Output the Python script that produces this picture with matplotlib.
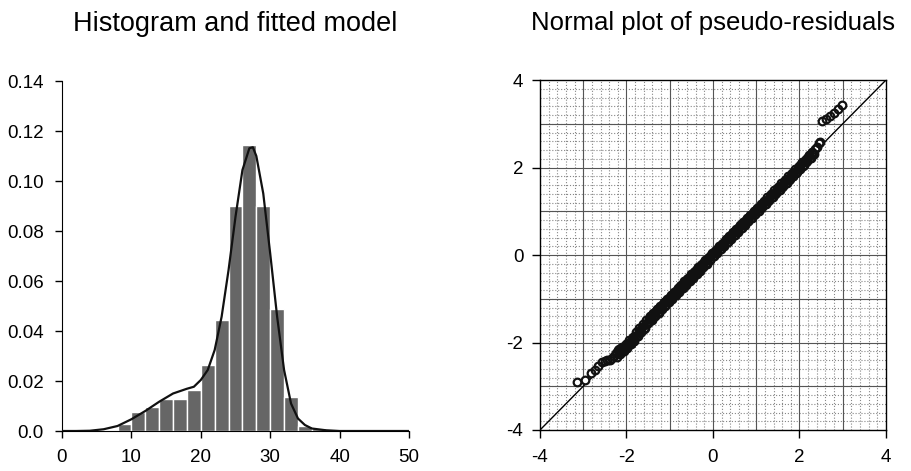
import numpy as np
import matplotlib
matplotlib.use("Agg")
import matplotlib.pyplot as plt

plt.rcParams['font.family'] = ['Liberation Sans', 'DejaVu Sans']
plt.rcParams['axes.unicode_minus'] = False

# histogram bins (left edges) and heights
bin_left = [8, 10, 12, 14, 16, 18, 20, 22, 24, 26, 28, 30, 32, 34, 36]
bin_height = [0.003, 0.0077, 0.0097, 0.0127, 0.0127, 0.0164, 0.0264, 0.0444,
              0.0901, 0.1144, 0.0901, 0.049, 0.0137, 0.002, 0.0013]

# fitted model density
curve_x = [0, 2, 4, 6, 8, 10, 12, 14, 16, 18, 19, 20, 21, 22, 23, 24, 25, 26,
           27, 27.5, 28, 29, 30, 31, 32, 33, 34, 35, 36, 38, 40, 45, 50]
curve_y = [0.0, 0.0, 0.0001, 0.0007, 0.002, 0.0047, 0.008, 0.0117, 0.015,
           0.0169, 0.0177, 0.0204, 0.0244, 0.0324, 0.0457, 0.0644, 0.0857,
           0.1044, 0.1131, 0.1135, 0.110, 0.095, 0.071, 0.0457, 0.0244, 0.011,
           0.005, 0.0024, 0.001, 0.0003, 0.0, 0.0, 0.0]

# normal plot: theoretical quantile vs pseudo-residual
qq_x = [-3.15, -2.96, -2.82, -2.72, -2.65, -2.57, -2.50, -2.44, -2.38, -2.33, -2.28,
        -2.24, -2.20, -2.16, -2.12, -2.08, -2.04, -2.00, -1.96, -1.92, -1.88,
        -1.84, -1.80, -1.76, -1.72, -1.68, -1.64, -1.60, -1.56, -1.52, -1.48,
        -1.44, -1.40, -1.36, -1.32, -1.28, -1.24, -1.20, -1.16, -1.12, -1.08,
        -1.04, -1.00, -0.96, -0.92, -0.88, -0.84, -0.80, -0.76, -0.72, -0.68,
        -0.64, -0.60, -0.56, -0.52, -0.48, -0.44, -0.40, -0.36, -0.32, -0.28,
        -0.24, -0.20, -0.16, -0.12, -0.08, -0.04, 0.00, 0.04, 0.08, 0.12,
        0.16, 0.20, 0.24, 0.28, 0.32, 0.36, 0.40, 0.44, 0.48, 0.52,
        0.56, 0.60, 0.64, 0.68, 0.72, 0.76, 0.80, 0.84, 0.88, 0.92,
        0.96, 1.00, 1.04, 1.08, 1.12, 1.16, 1.20, 1.24, 1.28, 1.32,
        1.36, 1.40, 1.44, 1.48, 1.52, 1.56, 1.60, 1.64, 1.68, 1.72,
        1.76, 1.80, 1.84, 1.88, 1.92, 1.96, 2.00, 2.04, 2.08, 2.12,
        2.16, 2.20, 2.24, 2.28, 2.32, 2.36, 2.40, 2.44, 2.47,
        2.53, 2.61, 2.70, 2.79, 2.88, 2.99]
qq_y = [-2.91, -2.86, -2.70, -2.62, -2.53, -2.44, -2.42, -2.41, -2.40, -2.36, -2.31,
        -2.25, -2.18, -2.22, -2.14, -2.18, -2.08, -2.10, -2.00, -2.02, -1.93,
        -1.97, -1.85, -1.84, -1.74, -1.76, -1.65, -1.68, -1.57, -1.55, -1.46,
        -1.47, -1.36, -1.39, -1.29, -1.30, -1.20, -1.22, -1.12, -1.14, -1.04,
        -1.06, -0.96, -0.98, -0.88, -0.90, -0.79, -0.82, -0.71, -0.74, -0.63,
        -0.66, -0.55, -0.58, -0.47, -0.50, -0.39, -0.42, -0.31, -0.34, -0.23,
        -0.26, -0.15, -0.18, -0.07, -0.10, 0.01, -0.02, 0.09, 0.06, 0.17,
        0.14, 0.25, 0.22, 0.33, 0.30, 0.41, 0.38, 0.48, 0.46, 0.56,
        0.54, 0.64, 0.62, 0.72, 0.70, 0.80, 0.78, 0.87, 0.85, 0.95,
        0.93, 1.03, 1.01, 1.10, 1.08, 1.18, 1.16, 1.26, 1.24, 1.34,
        1.32, 1.42, 1.40, 1.50, 1.48, 1.58, 1.56, 1.66, 1.64, 1.74,
        1.72, 1.82, 1.80, 1.90, 1.88, 1.99, 1.96, 2.07, 2.04, 2.15,
        2.13, 2.24, 2.22, 2.33, 2.32, 2.42, 2.47, 2.55, 2.59,
        3.07, 3.10, 3.18, 3.25, 3.33, 3.43]

# the dense middle part has many more points, overlapping into a solid band
qq_x_mid = [-2.22, -2.18, -2.14, -2.10, -2.06, -2.02, -1.98, -1.94, -1.90, -1.86,
            -1.82, -1.78, -1.74, -1.70, -1.66, -1.62, -1.58, -1.54, -1.50, -1.46,
            -1.42, -1.38, -1.34, -1.30, -1.26, -1.22, -1.18, -1.14, -1.10, -1.06,
            -1.02, -0.98, -0.94, -0.90, -0.86, -0.82, -0.78, -0.74, -0.70, -0.66,
            -0.62, -0.58, -0.54, -0.50, -0.46, -0.42, -0.38, -0.34, -0.30, -0.26,
            -0.22, -0.18, -0.14, -0.10, -0.06, -0.02, 0.02, 0.06, 0.10, 0.14,
            0.18, 0.22, 0.26, 0.30, 0.34, 0.38, 0.42, 0.46, 0.50, 0.54,
            0.58, 0.62, 0.66, 0.70, 0.74, 0.78, 0.82, 0.86, 0.90, 0.94,
            0.98, 1.02, 1.06, 1.10, 1.14, 1.18, 1.22, 1.26, 1.30, 1.34,
            1.38, 1.42, 1.46, 1.50, 1.54, 1.58, 1.62, 1.66, 1.70, 1.74,
            1.78, 1.82, 1.86, 1.90, 1.94, 1.98, 2.02, 2.06, 2.10, 2.14,
            2.18, 2.22, 2.26, 2.30, 2.34]
qq_y_mid = [-2.32, -2.15, -2.26, -2.10, -2.20, -2.03, -2.12, -1.95, -2.04, -1.87,
            -1.96, -1.77, -1.86, -1.67, -1.76, -1.58, -1.66, -1.49, -1.56, -1.40,
            -1.48, -1.32, -1.40, -1.24, -1.32, -1.16, -1.24, -1.08, -1.16, -1.00,
            -1.08, -0.92, -1.00, -0.84, -0.92, -0.76, -0.84, -0.68, -0.76, -0.60,
            -0.68, -0.52, -0.60, -0.44, -0.52, -0.36, -0.44, -0.28, -0.36, -0.20,
            -0.28, -0.12, -0.20, -0.04, -0.12, 0.04, -0.03, 0.12, 0.05, 0.20,
            0.13, 0.28, 0.21, 0.36, 0.29, 0.44, 0.37, 0.52, 0.45, 0.60,
            0.53, 0.68, 0.61, 0.76, 0.69, 0.84, 0.77, 0.92, 0.85, 1.00,
            0.93, 1.08, 1.01, 1.16, 1.09, 1.24, 1.17, 1.32, 1.25, 1.40,
            1.33, 1.48, 1.41, 1.56, 1.49, 1.64, 1.57, 1.72, 1.65, 1.80,
            1.73, 1.88, 1.81, 1.96, 1.89, 2.04, 1.97, 2.12, 2.05, 2.20,
            2.14, 2.28, 2.22, 2.36, 2.32]

fig = plt.figure(figsize=(9.12, 4.71), dpi=100)

# left panel: histogram + fitted curve
ax1 = fig.add_axes([62/912, 40/471, 347/912, 350/471])
ax1.bar(bin_left, bin_height, width=2, align='edge', color='#666666',
        edgecolor='white', linewidth=1.0, zorder=2)
ax1.plot(curve_x, curve_y, color='#111111', lw=1.6, zorder=3)
ax1.set_xlim(0, 50)
ax1.set_ylim(0, 0.14)
ax1.set_xticks([0, 10, 20, 30, 40, 50])
ax1.set_yticks([0, 0.02, 0.04, 0.06, 0.08, 0.10, 0.12, 0.14])
ax1.set_yticklabels(['0.0', '0.02', '0.04', '0.06', '0.08', '0.10', '0.12', '0.14'])
ax1.spines['top'].set_visible(False)
ax1.spines['right'].set_visible(False)
ax1.tick_params(axis='y', direction='out', length=5, width=1, pad=8, labelsize=13.5)
ax1.tick_params(axis='x', direction='out', length=5, width=1, pad=8, labelsize=13.5)
ax1.set_title('Histogram and fitted model', fontsize=19.5, pad=36)

# right panel: normal plot of pseudo-residuals
ax2 = fig.add_axes([540/912, 41/471, 346/912, 350/471])
ax2.set_xlim(-4, 4)
ax2.set_ylim(-4, 4)
ax2.set_xticks([-4, -2, 0, 2, 4])
ax2.set_yticks([-4, -2, 0, 2, 4])
ax2.set_xticks(np.arange(-4, 4.01, 0.2), minor=True)
ax2.set_yticks(np.arange(-4, 4.01, 0.2), minor=True)
ax2.grid(which='minor', color='#888888', linestyle=':', linewidth=0.8)
for v in range(-3, 4):
    ax2.axhline(v, color='#555555', lw=0.8, zorder=1)
    ax2.axvline(v, color='#555555', lw=0.8, zorder=1)
ax2.set_axisbelow(True)
ax2.plot([-4, 4], [-4, 4], color='black', lw=1.0, zorder=2)

# open circles: white faces first, then all the outlines on top,
# so the dense middle fills in black like in the original
px = np.array(qq_x + qq_x_mid)
py = np.array(qq_y + qq_y_mid)
ax2.plot(px, py, 'o', ls='none', ms=5.5, mfc='white', mec='none', zorder=3)
ax2.plot(px, py, 'o', ls='none', ms=5.5, mfc='none', mec='#111111', mew=1.6, zorder=4)
ax2.tick_params(which='minor', length=0)
ax2.tick_params(which='major', direction='out', length=6, width=1, labelsize=13.5)
ax2.tick_params(axis='x', pad=8)
ax2.tick_params(axis='y', pad=6)
for s in ax2.spines.values():
    s.set_linewidth(1.0)
ax2.set_title('Normal plot of pseudo-residuals', fontsize=18.5, pad=36)

fig.savefig('out.png', dpi=100)
